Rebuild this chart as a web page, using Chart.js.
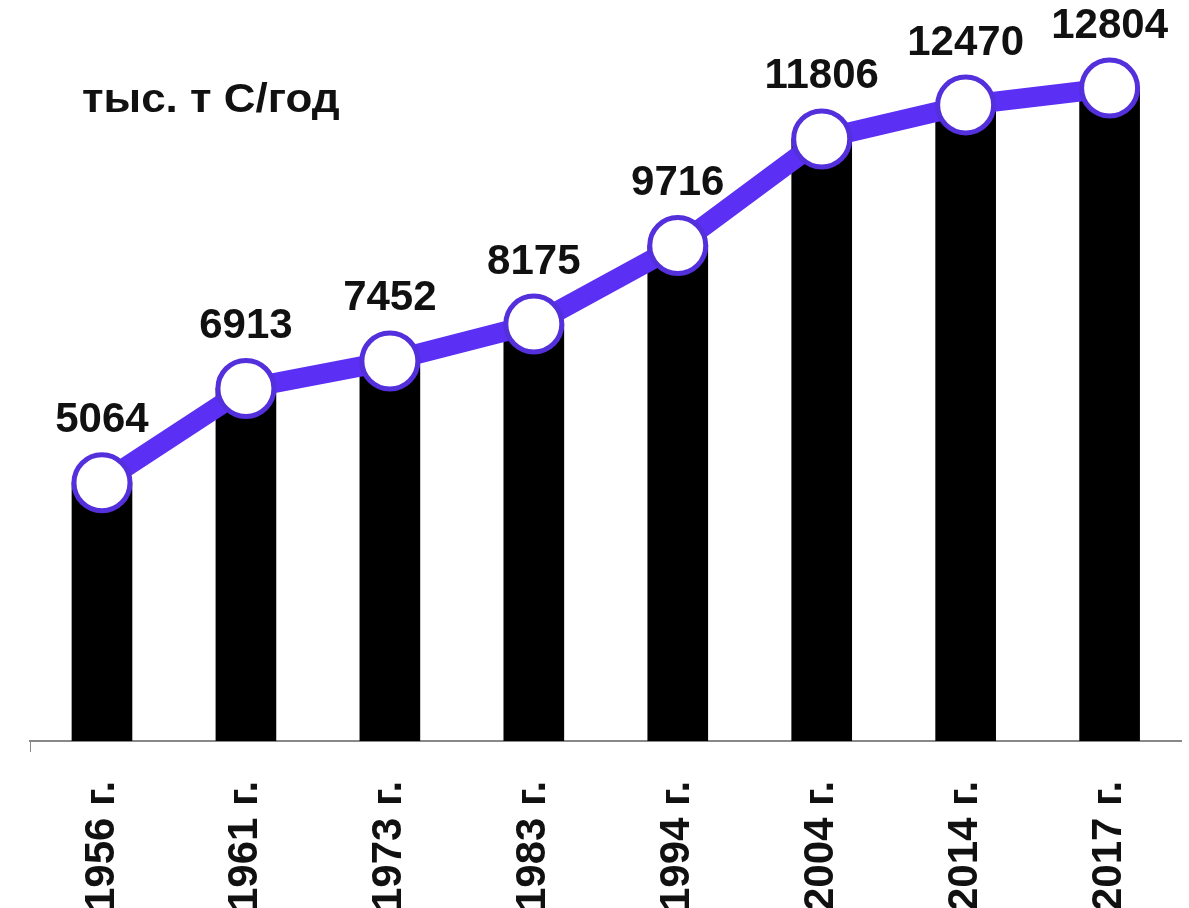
<!DOCTYPE html>
<html>
<head>
<meta charset="utf-8">
<script src="https://cdn.jsdelivr.net/npm/chart.js@4.4.1/dist/chart.umd.min.js"></script>
<style>
  html, body { margin: 0; padding: 0; background: #fff; overflow: hidden; }
  #wrap { width: 1189px; height: 908px; overflow: hidden; }
</style>
</head>
<body>
<div id="wrap"><canvas id="c" width="1189" height="940"></canvas></div>
<script>
const years = ['1956 г.', '1961 г.', '1973 г.', '1983 г.', '1994 г.', '2004 г.', '2014 г.', '2017 г.'];
const values = [5064, 6913, 7452, 8175, 9716, 11806, 12470, 12804];
const unitLabel = 'тыс. т С/год';

const FONT = '"Liberation Sans", Arial, sans-serif';
const PURPLE = '#5b2ff4';
const PURPLE_EDGE = '#5430dc';

const labelsPlugin = {
  id: 'valueLabels',
  afterDatasetsDraw(chart) {
    const ctx = chart.ctx;
    const meta = chart.getDatasetMeta(1);
    ctx.save();
    ctx.font = 'bold 42px ' + FONT;
    ctx.fillStyle = '#111';
    ctx.textAlign = 'center';
    ctx.textBaseline = 'middle';
    meta.data.forEach((pt, i) => {
      ctx.fillText(String(values[i]), pt.x, pt.y - 62);
    });
    ctx.restore();
    ctx.save();
    ctx.font = 'bold 40px ' + FONT;
    ctx.fillStyle = '#111';
    ctx.textAlign = 'left';
    ctx.textBaseline = 'middle';
    ctx.translate(82, 101);
    ctx.scale(1.1, 1);
    ctx.fillText(unitLabel, 0, 0);
    ctx.restore();
  }
};

new Chart(document.getElementById('c'), {
  data: {
    labels: years,
    datasets: [
      {
        type: 'bar',
        data: values,
        backgroundColor: '#000',
        barThickness: 60,
        order: 2
      },
      {
        type: 'line',
        data: values,
        borderColor: PURPLE,
        borderWidth: 20,
        pointRadius: 28,
        pointHoverRadius: 28,
        pointBackgroundColor: '#fff',
        pointBorderColor: PURPLE_EDGE,
        pointBorderWidth: 5,
        tension: 0,
        clip: false,
        order: 1
      }
    ]
  },
  options: {
    responsive: false,
    animation: false,
    devicePixelRatio: 1,
    layout: { autoPadding: false, padding: { left: 30, right: -8, top: 27, bottom: 0 } },
    plugins: { legend: { display: false }, tooltip: { enabled: false } },
    scales: {
      x: {
        type: 'category',
        offset: true,
        grid: {
          display: true,
          drawOnChartArea: false,
          drawTicks: true,
          tickLength: 11,
          color: (c) => c.index === 0 ? '#888' : 'rgba(0,0,0,0)'
        },
        border: { display: true, color: '#888', width: 2 },
        ticks: {
          maxRotation: 90,
          minRotation: 90,
          padding: 29,
          color: '#111',
          font: { family: FONT, size: 42, weight: 'bold' }
        }
      },
      y: {
        display: false,
        min: 0,
        max: 14000
      }
    }
  },
  plugins: [labelsPlugin]
});
</script>
</body>
</html>
